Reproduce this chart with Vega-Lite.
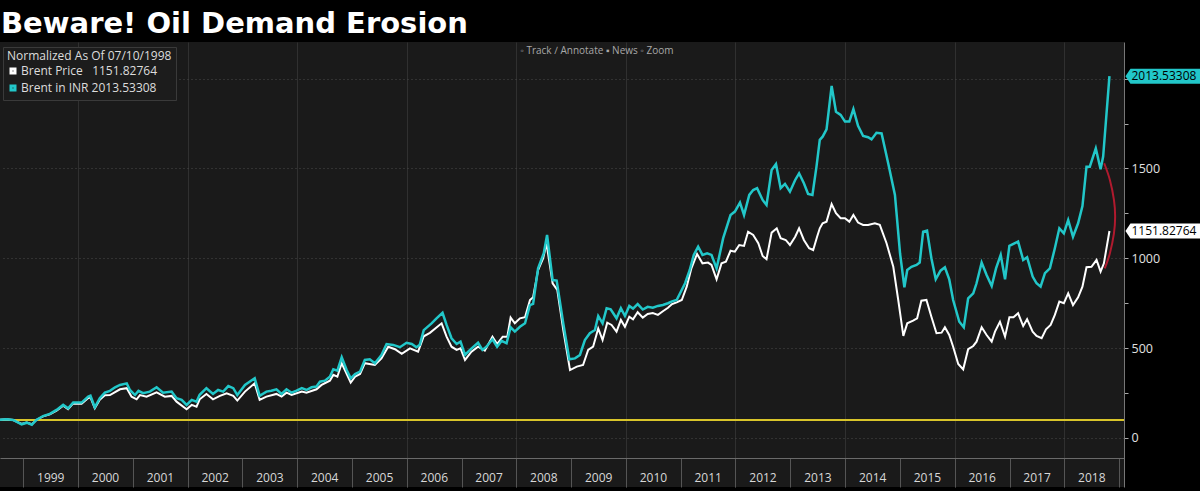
{
  "$schema": "https://vega.github.io/schema/vega-lite/v6.json",
  "width": 1124,
  "height": 445,
  "autosize": {"type": "none"},
  "padding": {"left": 0, "top": 42, "right": 76, "bottom": 4},
  "background": "#000000",
  "title": {"text": "Beware! Oil Demand Erosion", "anchor": "start", "frame": "group", "font": "DejaVu Sans", "fontSize": 29, "fontWeight": "bold", "color": "#ffffff", "offset": 3, "dx": 1},
  "config": {"view": {"fill": "#1a1a1a", "stroke": null}, "font": "Open Sans"},
  "datasets": {
    "brent": [
      {"date":"1998-07-10","value":100},{"date":"1998-09-12","value":104},{"date":"1998-10-26","value":100},{"date":"1998-12-21","value":78},{"date":"1999-01-24","value":86},{"date":"1999-02-27","value":76},{"date":"1999-03-29","value":100},{"date":"1999-05-13","value":120},{"date":"1999-06-27","value":132},{"date":"1999-08-11","value":152},{"date":"1999-09-24","value":180},{"date":"1999-10-27","value":160},{"date":"1999-11-30","value":192},{"date":"2000-01-25","value":190},{"date":"2000-03-09","value":222},{"date":"2000-03-24","value":226},{"date":"2000-04-22","value":165},{"date":"2000-05-25","value":212},{"date":"2000-06-28","value":238},{"date":"2000-08-01","value":239},{"date":"2000-10-07","value":271},{"date":"2000-11-21","value":277},{"date":"2000-12-23","value":230},{"date":"2001-01-26","value":215},{"date":"2001-02-17","value":239},{"date":"2001-04-02","value":230},{"date":"2001-06-08","value":254},{"date":"2001-08-02","value":230},{"date":"2001-09-16","value":234},{"date":"2001-10-19","value":202},{"date":"2001-12-25","value":160},{"date":"2002-01-28","value":184},{"date":"2002-03-01","value":174},{"date":"2002-03-22","value":215},{"date":"2002-05-06","value":245},{"date":"2002-06-19","value":215},{"date":"2002-08-04","value":234},{"date":"2002-09-18","value":249},{"date":"2002-11-01","value":234},{"date":"2002-11-28","value":208},{"date":"2003-01-18","value":258},{"date":"2003-03-24","value":304},{"date":"2003-04-26","value":212},{"date":"2003-06-10","value":230},{"date":"2003-08-16","value":245},{"date":"2003-09-19","value":230},{"date":"2003-10-22","value":252},{"date":"2003-11-25","value":239},{"date":"2004-02-01","value":258},{"date":"2004-03-03","value":252},{"date":"2004-05-09","value":271},{"date":"2004-06-12","value":295},{"date":"2004-08-06","value":319},{"date":"2004-08-29","value":351},{"date":"2004-09-25","value":341},{"date":"2004-10-24","value":416},{"date":"2004-12-23","value":308},{"date":"2005-01-21","value":341},{"date":"2005-02-23","value":356},{"date":"2005-03-27","value":416},{"date":"2005-06-02","value":406},{"date":"2005-07-16","value":443},{"date":"2005-08-30","value":508},{"date":"2005-10-14","value":494},{"date":"2005-11-28","value":468},{"date":"2006-01-22","value":499},{"date":"2006-03-17","value":480},{"date":"2006-04-24","value":566},{"date":"2006-06-04","value":585},{"date":"2006-08-21","value":638},{"date":"2006-09-23","value":564},{"date":"2006-10-26","value":508},{"date":"2006-11-29","value":490},{"date":"2006-12-25","value":499},{"date":"2007-01-24","value":434},{"date":"2007-03-08","value":480},{"date":"2007-04-21","value":508},{"date":"2007-06-05","value":486},{"date":"2007-07-26","value":564},{"date":"2007-08-26","value":523},{"date":"2007-10-02","value":564},{"date":"2007-11-02","value":564},{"date":"2007-11-24","value":670},{"date":"2007-12-22","value":638},{"date":"2008-01-25","value":666},{"date":"2008-02-28","value":672},{"date":"2008-04-01","value":768},{"date":"2008-04-22","value":783},{"date":"2008-05-25","value":935},{"date":"2008-06-28","value":1000},{"date":"2008-07-20","value":1084},{"date":"2008-08-30","value":861},{"date":"2008-09-30","value":824},{"date":"2008-11-09","value":601},{"date":"2008-12-24","value":378},{"date":"2009-02-07","value":397},{"date":"2009-03-21","value":406},{"date":"2009-04-24","value":490},{"date":"2009-05-27","value":508},{"date":"2009-06-30","value":610},{"date":"2009-07-29","value":545},{"date":"2009-08-29","value":642},{"date":"2009-09-27","value":629},{"date":"2009-10-30","value":592},{"date":"2009-11-28","value":657},{"date":"2009-12-25","value":619},{"date":"2010-01-23","value":675},{"date":"2010-02-17","value":660},{"date":"2010-03-20","value":700},{"date":"2010-04-23","value":670},{"date":"2010-05-26","value":690},{"date":"2010-06-29","value":695},{"date":"2010-08-02","value":685},{"date":"2010-09-04","value":705},{"date":"2010-10-08","value":725},{"date":"2010-11-04","value":745},{"date":"2010-12-05","value":755},{"date":"2011-01-08","value":768},{"date":"2011-02-10","value":842},{"date":"2011-03-13","value":944},{"date":"2011-04-20","value":1024},{"date":"2011-05-26","value":972},{"date":"2011-07-02","value":976},{"date":"2011-07-25","value":963},{"date":"2011-08-28","value":883},{"date":"2011-09-30","value":972},{"date":"2011-10-29","value":981},{"date":"2011-11-29","value":1042},{"date":"2011-12-28","value":1037},{"date":"2012-01-26","value":1074},{"date":"2012-02-27","value":1069},{"date":"2012-03-25","value":1148},{"date":"2012-04-28","value":1130},{"date":"2012-06-01","value":1084},{"date":"2012-06-30","value":1013},{"date":"2012-07-26","value":995},{"date":"2012-08-29","value":1143},{"date":"2012-10-02","value":1167},{"date":"2012-10-28","value":1112},{"date":"2012-12-01","value":1102},{"date":"2012-12-29","value":1074},{"date":"2013-02-02","value":1120},{"date":"2013-02-28","value":1167},{"date":"2013-04-01","value":1102},{"date":"2013-05-06","value":1056},{"date":"2013-06-02","value":1046},{"date":"2013-06-28","value":1120},{"date":"2013-07-16","value":1167},{"date":"2013-08-04","value":1195},{"date":"2013-08-30","value":1204},{"date":"2013-10-03","value":1302},{"date":"2013-11-01","value":1251},{"date":"2013-12-02","value":1223},{"date":"2013-12-31","value":1223},{"date":"2014-01-29","value":1204},{"date":"2014-02-25","value":1241},{"date":"2014-03-28","value":1199},{"date":"2014-05-01","value":1186},{"date":"2014-06-03","value":1186},{"date":"2014-07-18","value":1195},{"date":"2014-08-20","value":1186},{"date":"2014-10-04","value":1084},{"date":"2014-11-18","value":953},{"date":"2014-12-21","value":768},{"date":"2015-01-24","value":568},{"date":"2015-02-19","value":638},{"date":"2015-03-30","value":653},{"date":"2015-04-26","value":666},{"date":"2015-05-24","value":764},{"date":"2015-06-27","value":768},{"date":"2015-07-30","value":675},{"date":"2015-09-02","value":583},{"date":"2015-10-06","value":586},{"date":"2015-10-28","value":616},{"date":"2015-11-26","value":573},{"date":"2015-12-22","value":508},{"date":"2016-01-25","value":412},{"date":"2016-02-27","value":382},{"date":"2016-03-31","value":494},{"date":"2016-05-04","value":512},{"date":"2016-05-26","value":536},{"date":"2016-06-29","value":616},{"date":"2016-08-01","value":573},{"date":"2016-09-04","value":536},{"date":"2016-09-26","value":592},{"date":"2016-10-29","value":647},{"date":"2016-12-02","value":564},{"date":"2016-12-31","value":672},{"date":"2017-01-27","value":672},{"date":"2017-02-27","value":694},{"date":"2017-04-02","value":623},{"date":"2017-04-28","value":661},{"date":"2017-06-04","value":592},{"date":"2017-06-30","value":568},{"date":"2017-08-03","value":555},{"date":"2017-09-01","value":605},{"date":"2017-10-02","value":629},{"date":"2017-10-30","value":685},{"date":"2017-11-29","value":759},{"date":"2017-12-29","value":750},{"date":"2018-01-27","value":805},{"date":"2018-02-28","value":740},{"date":"2018-04-03","value":783},{"date":"2018-05-02","value":842},{"date":"2018-05-29","value":950},{"date":"2018-07-01","value":953},{"date":"2018-08-04","value":991},{"date":"2018-08-31","value":926},{"date":"2018-09-22","value":972},{"date":"2018-10-29","value":1151.82764}
    ],
    "inr": [
      {"date":"1998-07-10","value":100},{"date":"1998-09-12","value":104},{"date":"1998-10-26","value":100},{"date":"1998-12-21","value":76},{"date":"1999-01-24","value":85},{"date":"1999-02-27","value":74},{"date":"1999-03-29","value":100},{"date":"1999-05-13","value":122},{"date":"1999-06-27","value":134},{"date":"1999-08-11","value":156},{"date":"1999-09-24","value":184},{"date":"1999-10-27","value":165},{"date":"1999-11-30","value":197},{"date":"2000-01-25","value":197},{"date":"2000-03-09","value":230},{"date":"2000-03-24","value":235},{"date":"2000-04-22","value":171},{"date":"2000-05-25","value":221},{"date":"2000-06-28","value":252},{"date":"2000-08-01","value":262},{"date":"2000-09-04","value":282},{"date":"2000-10-07","value":295},{"date":"2000-11-21","value":304},{"date":"2000-12-12","value":267},{"date":"2001-01-15","value":239},{"date":"2001-02-07","value":262},{"date":"2001-03-10","value":249},{"date":"2001-04-24","value":258},{"date":"2001-06-08","value":282},{"date":"2001-07-21","value":252},{"date":"2001-09-16","value":258},{"date":"2001-10-19","value":221},{"date":"2001-11-22","value":212},{"date":"2001-12-25","value":184},{"date":"2002-01-28","value":212},{"date":"2002-03-01","value":202},{"date":"2002-03-22","value":240},{"date":"2002-05-06","value":277},{"date":"2002-06-19","value":245},{"date":"2002-07-23","value":267},{"date":"2002-08-26","value":258},{"date":"2002-09-29","value":289},{"date":"2002-11-01","value":277},{"date":"2002-11-28","value":239},{"date":"2003-01-18","value":295},{"date":"2003-03-24","value":332},{"date":"2003-04-26","value":235},{"date":"2003-06-10","value":258},{"date":"2003-07-13","value":263},{"date":"2003-08-16","value":271},{"date":"2003-09-19","value":245},{"date":"2003-10-22","value":271},{"date":"2003-11-25","value":252},{"date":"2003-12-28","value":263},{"date":"2004-02-01","value":277},{"date":"2004-03-03","value":267},{"date":"2004-04-06","value":282},{"date":"2004-05-09","value":286},{"date":"2004-06-01","value":313},{"date":"2004-07-04","value":319},{"date":"2004-08-06","value":341},{"date":"2004-08-29","value":382},{"date":"2004-09-25","value":375},{"date":"2004-10-24","value":449},{"date":"2004-11-26","value":378},{"date":"2004-12-23","value":332},{"date":"2005-01-21","value":356},{"date":"2005-02-23","value":369},{"date":"2005-03-27","value":434},{"date":"2005-04-29","value":438},{"date":"2005-06-02","value":416},{"date":"2005-07-16","value":462},{"date":"2005-08-19","value":523},{"date":"2005-10-02","value":518},{"date":"2005-11-16","value":505},{"date":"2005-12-30","value":530},{"date":"2006-02-03","value":523},{"date":"2006-03-06","value":505},{"date":"2006-03-28","value":518},{"date":"2006-04-24","value":600},{"date":"2006-06-15","value":638},{"date":"2006-07-18","value":666},{"date":"2006-08-27","value":697},{"date":"2006-09-23","value":629},{"date":"2006-10-26","value":555},{"date":"2006-11-29","value":523},{"date":"2006-12-25","value":536},{"date":"2007-01-24","value":462},{"date":"2007-02-26","value":490},{"date":"2007-04-21","value":530},{"date":"2007-05-20","value":490},{"date":"2007-06-16","value":508},{"date":"2007-07-26","value":549},{"date":"2007-08-26","value":508},{"date":"2007-09-25","value":541},{"date":"2007-10-28","value":527},{"date":"2007-11-24","value":616},{"date":"2007-12-22","value":592},{"date":"2008-01-25","value":619},{"date":"2008-02-28","value":638},{"date":"2008-04-01","value":740},{"date":"2008-04-22","value":746},{"date":"2008-05-25","value":944},{"date":"2008-07-02","value":1028},{"date":"2008-07-24","value":1130},{"date":"2008-08-30","value":879},{"date":"2008-09-26","value":876},{"date":"2008-11-09","value":638},{"date":"2008-12-19","value":438},{"date":"2009-01-26","value":443},{"date":"2009-02-28","value":462},{"date":"2009-04-02","value":545},{"date":"2009-05-05","value":583},{"date":"2009-06-08","value":601},{"date":"2009-06-30","value":679},{"date":"2009-07-29","value":638},{"date":"2009-08-25","value":722},{"date":"2009-09-21","value":716},{"date":"2009-10-30","value":666},{"date":"2009-11-28","value":722},{"date":"2009-12-25","value":679},{"date":"2010-01-23","value":735},{"date":"2010-02-17","value":720},{"date":"2010-03-20","value":745},{"date":"2010-04-23","value":715},{"date":"2010-05-26","value":730},{"date":"2010-06-29","value":725},{"date":"2010-08-02","value":735},{"date":"2010-09-04","value":740},{"date":"2010-10-08","value":750},{"date":"2010-11-04","value":760},{"date":"2010-12-05","value":768},{"date":"2011-01-30","value":861},{"date":"2011-03-02","value":935},{"date":"2011-03-29","value":1019},{"date":"2011-04-27","value":1065},{"date":"2011-05-26","value":1019},{"date":"2011-06-26","value":1028},{"date":"2011-07-25","value":1019},{"date":"2011-08-28","value":944},{"date":"2011-10-11","value":1112},{"date":"2011-11-29","value":1241},{"date":"2011-12-28","value":1260},{"date":"2012-01-31","value":1310},{"date":"2012-02-27","value":1241},{"date":"2012-04-02","value":1353},{"date":"2012-04-28","value":1380},{"date":"2012-05-24","value":1390},{"date":"2012-06-30","value":1325},{"date":"2012-07-26","value":1297},{"date":"2012-08-29","value":1492},{"date":"2012-09-27","value":1525},{"date":"2012-10-28","value":1390},{"date":"2012-11-26","value":1414},{"date":"2012-12-29","value":1371},{"date":"2013-02-02","value":1436},{"date":"2013-02-28","value":1473},{"date":"2013-04-01","value":1418},{"date":"2013-04-29","value":1358},{"date":"2013-05-28","value":1353},{"date":"2013-06-24","value":1510},{"date":"2013-07-16","value":1659},{"date":"2013-08-04","value":1677},{"date":"2013-08-30","value":1718},{"date":"2013-10-03","value":1959},{"date":"2013-11-01","value":1816},{"date":"2013-12-02","value":1798},{"date":"2013-12-31","value":1761},{"date":"2014-01-29","value":1761},{"date":"2014-02-25","value":1830},{"date":"2014-03-28","value":1737},{"date":"2014-05-01","value":1681},{"date":"2014-06-03","value":1674},{"date":"2014-06-26","value":1662},{"date":"2014-07-29","value":1699},{"date":"2014-09-01","value":1695},{"date":"2014-10-15","value":1529},{"date":"2014-11-29","value":1353},{"date":"2015-01-02","value":1028},{"date":"2015-01-31","value":839},{"date":"2015-02-19","value":935},{"date":"2015-03-19","value":953},{"date":"2015-04-22","value":963},{"date":"2015-05-13","value":976},{"date":"2015-06-05","value":1148},{"date":"2015-07-01","value":1154},{"date":"2015-07-30","value":1000},{"date":"2015-08-28","value":883},{"date":"2015-09-29","value":931},{"date":"2015-10-28","value":950},{"date":"2015-11-26","value":883},{"date":"2015-12-22","value":768},{"date":"2016-02-01","value":647},{"date":"2016-03-02","value":616},{"date":"2016-03-31","value":777},{"date":"2016-05-04","value":805},{"date":"2016-05-26","value":861},{"date":"2016-06-29","value":976},{"date":"2016-08-01","value":907},{"date":"2016-09-04","value":846},{"date":"2016-10-03","value":944},{"date":"2016-11-03","value":1019},{"date":"2016-12-02","value":883},{"date":"2016-12-31","value":1069},{"date":"2017-02-27","value":1093},{"date":"2017-04-02","value":991},{"date":"2017-04-28","value":1006},{"date":"2017-06-04","value":898},{"date":"2017-06-30","value":861},{"date":"2017-07-27","value":842},{"date":"2017-08-25","value":917},{"date":"2017-09-27","value":944},{"date":"2017-10-30","value":1056},{"date":"2017-11-29","value":1167},{"date":"2017-12-29","value":1139},{"date":"2018-01-27","value":1213},{"date":"2018-02-28","value":1120},{"date":"2018-04-03","value":1195},{"date":"2018-05-02","value":1291},{"date":"2018-05-29","value":1510},{"date":"2018-06-20","value":1510},{"date":"2018-07-30","value":1612},{"date":"2018-08-31","value":1496},{"date":"2018-09-17","value":1566},{"date":"2018-10-29","value":2013.53308}
    ],
    "arc": [
      {"seq":1,"date":"2018-09-24","value":1529},{"seq":2,"date":"2018-11-01","value":1436},{"seq":3,"date":"2018-11-28","value":1325},{"seq":4,"date":"2018-12-06","value":1232},{"seq":5,"date":"2018-11-28","value":1139},{"seq":6,"date":"2018-11-01","value":1028},{"seq":7,"date":"2018-09-28","value":944}
    ]
  },
  "layer": [
    {
      "data": {"values": [{}]},
      "mark": {"type": "rule", "color": "#d8c42a", "strokeWidth": 2},
      "encoding": {"y": {"datum": 100, "type": "quantitative"}}
    },
    {
      "data": {"name": "brent"},
      "mark": {"type": "line", "strokeWidth": 2},
      "encoding": {
        "x": {"field": "date", "type": "temporal", "title": null,
          "scale": {"type": "utc", "domain": [{"year": 1998, "month": 7, "date": 30, "utc": true}, {"year": 2019, "month": 2, "date": 3, "utc": true}]},
          "axis": {
            "values": [{"year":1999,"utc":true},{"year":2000,"utc":true},{"year":2001,"utc":true},{"year":2002,"utc":true},{"year":2003,"utc":true},{"year":2004,"utc":true},{"year":2005,"utc":true},{"year":2006,"utc":true},{"year":2007,"utc":true},{"year":2008,"utc":true},{"year":2009,"utc":true},{"year":2010,"utc":true},{"year":2011,"utc":true},{"year":2012,"utc":true},{"year":2013,"utc":true},{"year":2014,"utc":true},{"year":2015,"utc":true},{"year":2016,"utc":true},{"year":2017,"utc":true},{"year":2018,"utc":true},{"year":2019,"utc":true}],
            "offset": -29, "tickSize": 29, "tickColor": "#555555", "domainColor": "#6a6a6a",
            "labelExpr": "utcyear(datum.value) > 2018 ? '' : '' + utcyear(datum.value)",
            "labelOffset": 27, "labelPadding": -15, "labelColor": "#d8d8d8", "labelFont": "Open Sans", "labelFontSize": 12,
            "labelOverlap": false, "labelFlush": false, "labelBound": false,
            "grid": true, "gridColor": "#303030",
            "gridOpacity": {"condition": {"test": "utcyear(datum.value) % 2 == 0", "value": 1}, "value": 0}
          }
        },
        "y": {"field": "value", "type": "quantitative", "title": null,
          "scale": {"domain": [-273, 2204], "nice": false, "zero": false},
          "axis": {
            "orient": "right", "values": [0, 250, 500, 750, 1000, 1250, 1500, 1750, 2000], "format": "d",
            "labelExpr": "datum.value % 500 == 0 && datum.value < 2000 ? datum.label : ''",
            "tickSize": 4, "tickColor": "#aaaaaa", "domainColor": "#777777", "labelPadding": 3,
            "labelColor": "#e0e0e0", "labelFont": "Open Sans", "labelFontSize": 12.5,
            "grid": true, "gridColor": "#4a4a4a", "gridDash": [1, 3],
            "gridOpacity": {"condition": {"test": "datum.value % 500 == 0", "value": 1}, "value": 0}
          }
        },
        "color": {"datum": "Brent Price", "type": "nominal",
          "scale": {"domain": ["Brent Price", "Brent in INR"], "range": ["#ffffff", "#22c7c9"]},
          "legend": {
            "orient": "none", "legendX": 3, "legendY": 5, "title": "Normalized As Of 07/10/1998",
            "titleFont": "Open Sans", "titleFontSize": 12, "titleFontWeight": "normal", "titleColor": "#dddddd", "titlePadding": 2,
            "labelFont": "Open Sans", "labelFontSize": 12, "labelColor": "#dddddd", "labelLimit": 400,
            "labelExpr": "datum.label == 'Brent Price' ? 'Brent Price\u00a0\u00a0 1151.82764' : 'Brent in INR 2013.53308'",
            "symbolType": "square", "symbolSize": 16, "symbolStrokeWidth": 3, "symbolOffset": 0, "labelOffset": 2,
            "rowPadding": 1, "padding": 4, "fillColor": "#1c1c1c", "strokeColor": "#3a3a3a"
          }
        }
      }
    },
    {
      "data": {"name": "inr"},
      "mark": {"type": "line", "strokeWidth": 2.5},
      "encoding": {
        "x": {"field": "date", "type": "temporal", "title": null},
        "y": {"field": "value", "type": "quantitative", "title": null},
        "color": {"datum": "Brent in INR", "type": "nominal"}
      }
    },
    {
      "data": {"name": "arc"},
      "mark": {"type": "line", "interpolate": "cardinal", "color": "#b01a2e", "strokeWidth": 2},
      "encoding": {
        "x": {"field": "date", "type": "temporal", "title": null},
        "y": {"field": "value", "type": "quantitative", "title": null},
        "order": {"field": "seq", "type": "quantitative"}
      }
    },
    {
      "data": {"name": "inr"},
      "transform": [{"window": [{"op": "row_number", "as": "rn"}], "sort": [{"field": "date", "order": "descending"}]}, {"filter": "datum.rn == 1"}],
      "encoding": {
        "x": {"field": "date", "type": "temporal", "title": null},
        "y": {"field": "value", "type": "quantitative", "title": null}
      },
      "layer": [
        {"mark": {"type": "point", "shape": "M16,0L21,-7.5L100,-7.5L100,7.5L21,7.5Z", "size": 4, "filled": true, "fill": "#22c7c9", "opacity": 1, "strokeWidth": 0}},
        {"mark": {"type": "text", "align": "left", "baseline": "middle", "dx": 22, "font": "Open Sans", "fontSize": 12, "color": "#000000"},
         "encoding": {"text": {"field": "value", "type": "quantitative", "format": ".5f"}}}
      ]
    },
    {
      "data": {"name": "brent"},
      "transform": [{"window": [{"op": "row_number", "as": "rn"}], "sort": [{"field": "date", "order": "descending"}]}, {"filter": "datum.rn == 1"}],
      "encoding": {
        "x": {"field": "date", "type": "temporal", "title": null},
        "y": {"field": "value", "type": "quantitative", "title": null}
      },
      "layer": [
        {"mark": {"type": "point", "shape": "M16,0L21,-7.5L100,-7.5L100,7.5L21,7.5Z", "size": 4, "filled": true, "fill": "#ffffff", "opacity": 1, "strokeWidth": 0}},
        {"mark": {"type": "text", "align": "left", "baseline": "middle", "dx": 22, "font": "Open Sans", "fontSize": 12, "color": "#000000"},
         "encoding": {"text": {"field": "value", "type": "quantitative", "format": ".5f"}}}
      ]
    },
    {
      "data": {"values": [{}]},
      "mark": {"type": "text", "font": "Open Sans", "fontSize": 10, "color": "#a8a8a8"},
      "encoding": {
        "x": {"datum": {"year": 2009, "month": 6, "date": 21, "utc": true}, "type": "temporal"},
        "y": {"datum": 2152, "type": "quantitative"},
        "text": {"value": "◦ Track    ∕ Annotate    ▪ News    ◦ Zoom"}
      }
    }
  ]
}
